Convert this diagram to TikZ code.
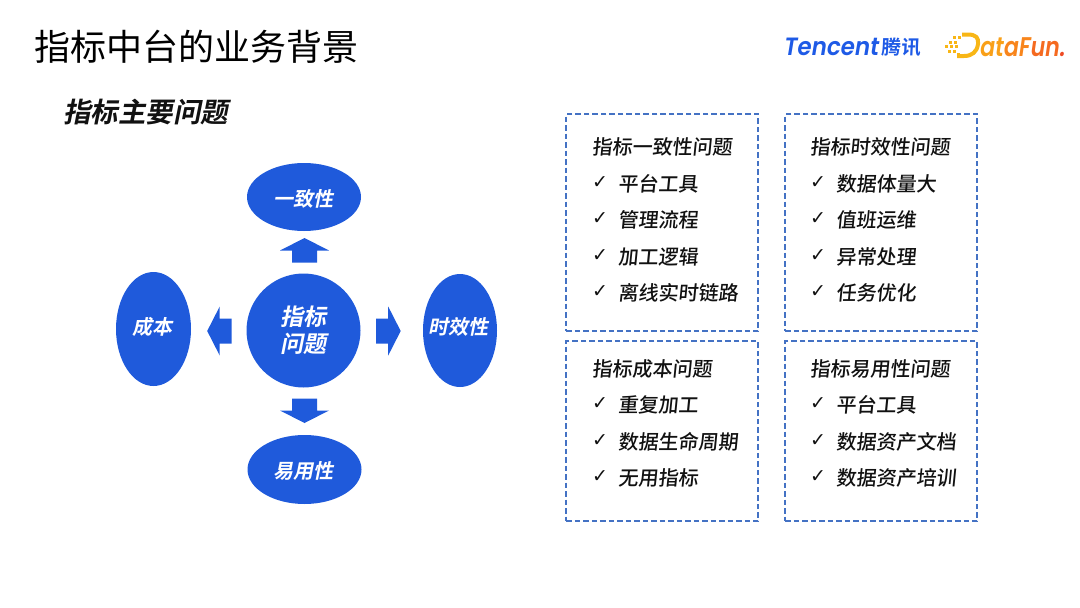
\documentclass[tikz,border=0pt]{standalone}
\usepackage{fontspec}
\setmainfont{Liberation Sans}
\newfontfamily\cjkplain{Noto Sans CJK SC}
\newfontfamily\cjkreg[FakeSlant=0.1]{Noto Sans CJK SC Medium}
\newfontfamily\cjkbold[FakeSlant=0.2]{Noto Sans CJK SC Bold}
\newfontfamily\cjklogo[FakeSlant=0.05]{Noto Sans CJK SC Bold}
\newfontfamily\checkfont{DejaVu Sans}
\newfontfamily\logofont[FakeSlant=0.18]{Poppins SemiBold}
\usetikzlibrary{shapes.geometric}
\definecolor{mainblue}{HTML}{1F5ADB}
\definecolor{dashblue}{HTML}{4472C4}
\definecolor{inkblack}{HTML}{111111}
\definecolor{logoblue}{HTML}{1E5AE6}
\definecolor{dfa}{HTML}{F8B616}
\definecolor{dfb}{HTML}{F9A018}
\definecolor{dfc}{HTML}{F8851C}
\definecolor{dfd}{HTML}{F56A20}
\definecolor{dfe}{HTML}{EE4A24}
\tikzset{
  x=1pt,y=-1pt,
  topic/.style={ellipse,fill=mainblue,inner sep=0,outer sep=0,text=white,align=center,font=\fontsize{20}{24}\selectfont\cjkbold},
  blockarrow/.style={fill=mainblue,draw=none},
  dashbox/.style={draw=dashblue,line width=2pt,dash pattern=on 5.5pt off 3pt,minimum width=192pt,inner sep=0,outer sep=0},
  boxhead/.style={inner sep=0,anchor=west,text=inkblack,font=\fontsize{20}{24}\selectfont\cjkreg},
  boxitem/.style={inner sep=0,anchor=west,text=inkblack,font=\fontsize{20}{24}\selectfont\cjkreg},
  tick/.style={inner sep=0,text=inkblack,font=\fontsize{19}{24}\selectfont\checkfont},
  dot/.style={fill=dfa,draw=none},
}
\newcommand{\itemrow}[4]{%
  \node[tick] (t#1) at (#2-18,#3-1) {✓};
  \node[boxitem] (i#1) at (#2,#3) {#4};
}
% block arrow: tip points along the given angle; base centre at the given point
\newcommand{\blockarr}[3]{%
  \fill[blockarrow,shift={(#1,#2)},rotate=#3] (0,-12.5) -- (12,-12.5) -- (12,-24.5) -- (24.5,0) -- (12,24.5) -- (12,12.5) -- (0,12.5) -- cycle;
}
\begin{document}
\begin{tikzpicture}
\useasboundingbox (0,0) rectangle (1080,608);
\node[inner sep=0,anchor=west,text=black,font=\fontsize{36}{40}\selectfont\cjkplain] (title) at (34,46.5) {指标中台的业务背景};
\node[inner sep=0,anchor=west,text=inkblack,font=\fontsize{27.5}{32}\selectfont\cjkbold] (sub) at (63,112) {指标主要问题};
% logos
\node[inner sep=0,anchor=west,text=logoblue,font=\fontsize{25}{28}\selectfont\logofont] (tencent) at (783,47) {\scalebox{.92}[1]{Tencent}};
\node[inner sep=0,anchor=west,text=logoblue,font=\fontsize{19.5}{24}\selectfont\cjklogo] (tencentcn) at (881.5,47.5) {腾讯};
\foreach \x/\y in {953/36,958/36,949/40.5,954/40.5,945/45,950/45,955/45,948/49.5,953/49.5,957/53}
  \fill[dot] (\x,\y) rectangle +(3.2,3.2);
\draw[dfa,line width=4pt,line join=round] (962,34.5) -- (968,34.5) .. controls (976,34.5) and (979,38) .. (978,44) .. controls (977,52) and (972,56) .. (964,56) -- (957,56);
\node[inner sep=0,anchor=west,font=\fontsize{27}{30}\selectfont\logofont] (datafun) at (979,47.5) {\scalebox{.82}[1]{\textcolor{dfb}{a}\textcolor{dfb}{t}\textcolor{dfc}{a}\textcolor{dfc}{F}\textcolor{dfd}{u}\textcolor{dfd}{n}\textcolor{dfe}{.}}};
% centre diagram
\node[topic,minimum width=114pt,minimum height=114pt,font=\fontsize{23}{27}\selectfont\cjkbold] (core) at (303.5,330.5) {指标\\问题};
\node[topic,minimum width=114pt,minimum height=68pt] (consist) at (304,197) {};
\node[text=white,inner sep=0,font=\fontsize{20}{24}\selectfont\cjkbold] (consisttext) at (303.5,198.5) {一致性};
\node[topic,minimum width=114pt,minimum height=69pt] (ease) at (304.5,469.5) {};
\node[text=white,inner sep=0,font=\fontsize{20}{24}\selectfont\cjkbold] (easetext) at (303.5,471) {易用性};
\node[topic,minimum width=75pt,minimum height=114pt] (cost) at (153.5,329) {};
\node[text=white,inner sep=0,font=\fontsize{20}{24}\selectfont\cjkbold] (costtext) at (152,326.5) {成本};
\node[topic,minimum width=74pt,minimum height=113pt] (time) at (460,330.5) {};
\node[text=white,inner sep=0,font=\fontsize{20}{24}\selectfont\cjkbold] (timetext) at (458,327) {时效性};
\blockarr{304.5}{262.5}{90}
\blockarr{304.5}{398.5}{-90}
\blockarr{231.7}{331}{180}
\blockarr{376.2}{331}{0}
% dashed panels
\node[dashbox,minimum height=217pt] (b1) at (662.4,222.5) {};
\node[dashbox,minimum height=217pt] (b2) at (881.4,222.5) {};
\node[dashbox,minimum height=180pt] (b3) at (662.4,431) {};
\node[dashbox,minimum height=180pt] (b4) at (881.4,431) {};
\node[boxhead] (h1) at (592,146.5) {指标一致性问题};
\itemrow{a}{618}{183.5}{平台工具}
\itemrow{b}{618}{220}{管理流程}
\itemrow{c}{618}{256.5}{加工逻辑}
\itemrow{d}{618}{293}{离线实时链路}
\node[boxhead] (h2) at (810,146.5) {指标时效性问题};
\itemrow{e}{836}{183.5}{数据体量大}
\itemrow{f}{836}{220}{值班运维}
\itemrow{g}{836}{256.5}{异常处理}
\itemrow{h}{836}{293}{任务优化}
\node[boxhead] (h3) at (592,368.5) {指标成本问题};
\itemrow{i}{618}{405}{重复加工}
\itemrow{j}{618}{441.5}{数据生命周期}
\itemrow{k}{618}{478}{无用指标}
\node[boxhead] (h4) at (810,368.5) {指标易用性问题};
\itemrow{l}{836}{405}{平台工具}
\itemrow{m}{836}{441.5}{数据资产文档}
\itemrow{n}{836}{478}{数据资产培训}
\end{tikzpicture}
\end{document}
